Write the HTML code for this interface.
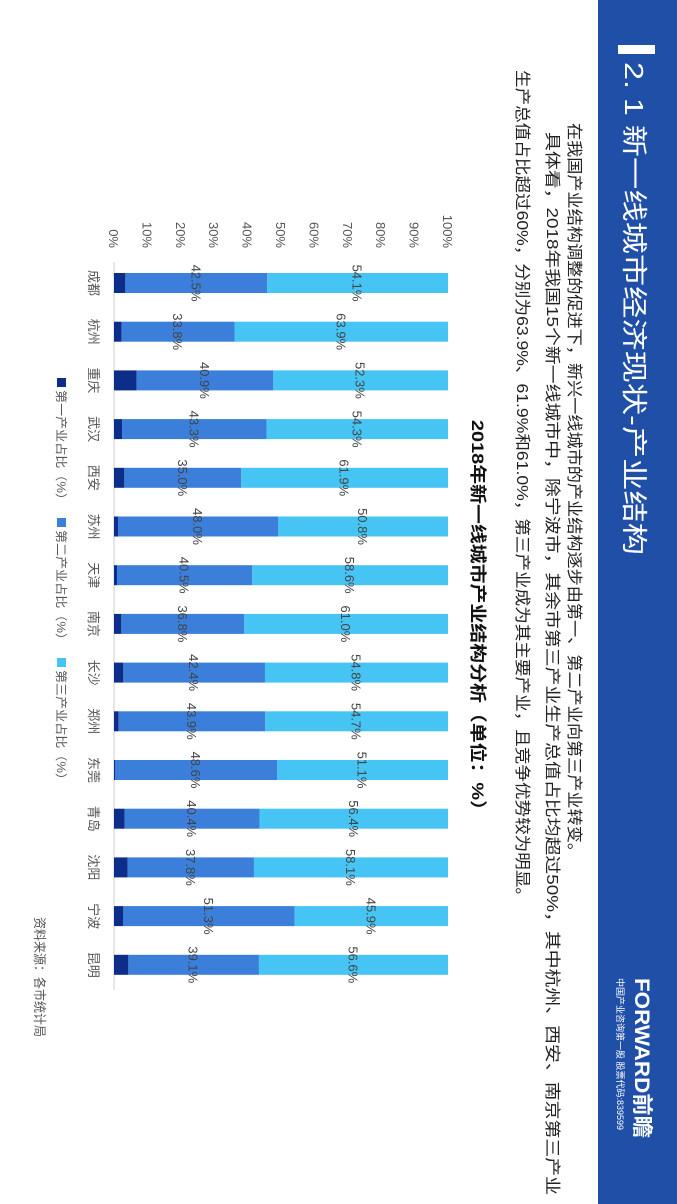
<!DOCTYPE html>
<html><head><meta charset="utf-8">
<style>
html,body{margin:0;padding:0;background:#fff;}
body{width:677px;height:1204px;overflow:hidden;position:relative;}
#land{position:absolute;left:0;top:0;width:1204px;height:677px;transform-origin:0 0;transform:translateX(677px) rotate(90deg);}
svg text{font-family:"Liberation Sans","Noto Sans CJK SC",sans-serif;}
</style></head>
<body>
<div id="land">
<svg id="svg" width="1204" height="677" xmlns="http://www.w3.org/2000/svg">
  <rect x="0" y="0" width="1204" height="79" fill="#1f4fa6"/>
  <rect x="45" y="22" width="9" height="37" fill="#fff"/>
  <text x="62" y="52" font-size="26" fill="#fff" textLength="493" lengthAdjust="spacingAndGlyphs">2. 1 新一线城市经济现状-产业结构</text>
  <text x="978" y="42" font-size="21" font-weight="bold" fill="#fff" textLength="160" lengthAdjust="spacingAndGlyphs">FORWARD前瞻</text>
  <text x="978" y="60" font-size="9" fill="#fff" textLength="152" lengthAdjust="spacingAndGlyphs">中国产业咨询第一股 股票代码:839599</text>
  <text x="123" y="108" font-size="16" fill="#222" textLength="737" lengthAdjust="spacingAndGlyphs">在我国产业结构调整的促进下，新兴一线城市的产业结构逐步由第一、第二产业向第三产业转变。</text>
  <text x="132" y="130" font-size="16" fill="#222" textLength="1063" lengthAdjust="spacingAndGlyphs">具体看，2018年我国15个新一线城市中，除宁波市，其余市第三产业生产总值占比均超过50%，其中杭州、西安、南京第三产业</text>
  <text x="70" y="160" font-size="16" fill="#222" textLength="835" lengthAdjust="spacingAndGlyphs">生产总值占比超过60%，分别为63.9%、61.9%和61.0%，第三产业成为其主要产业，且竞争优势较为明显。</text>
  <text x="620" y="205" font-size="17" font-weight="bold" fill="#111" text-anchor="middle" textLength="400" lengthAdjust="spacingAndGlyphs">2018年新一线城市产业结构分析（单位：%）</text>
  <g id="chart"></g>
  <text x="917" y="642" font-size="13" fill="#555" textLength="120" lengthAdjust="spacingAndGlyphs">资料来源：各市统计局</text>
</svg>
</div>
<script>
const categories=["成都","杭州","重庆","武汉","西安","苏州","天津","南京","长沙","郑州","东莞","青岛","沈阳","宁波","昆明"];
const secondary=[42.5,33.8,40.9,43.3,35.0,48.0,40.5,36.8,42.4,43.9,48.6,40.4,37.8,51.3,39.1];
const tertiary=[54.1,63.9,52.3,54.3,61.9,50.8,58.6,61.0,54.8,54.7,51.1,56.4,58.1,45.9,56.6];
const yTicks=[0,10,20,30,40,50,60,70,80,90,100];
const seriesNames=["第一产业占比（%）","第二产业占比（%）","第三产业占比（%）"];

const NS="http://www.w3.org/2000/svg";
const g=document.getElementById('chart');
const Y0=563,Y1=229,X0=283,STEP=48.7,BW=20;
const yScale=v=>Y0-(v/100)*(Y0-Y1);
const xScale=i=>X0+i*STEP;
const colors=["#0c2d8a","#3b7fdb","#46c4f4"];
function mk(tag,attrs){const e=document.createElementNS(NS,tag);for(const k in attrs)e.setAttribute(k,attrs[k]);g.appendChild(e);return e;}

yTicks.forEach(t=>{
  const e=mk('text',{x:248,y:yScale(t)+5,'font-size':13,fill:'#555','text-anchor':'end'});
  
  
  e.textContent=t+'%';
});
const ax=mk('line',{x1:262,x2:990,y1:Y0,y2:Y0,stroke:'#ccc','stroke-width':1});



categories.forEach((c,i)=>{
  const cx=xScale(i);
  const primary=Math.max(0,100-secondary[i]-tertiary[i]);
  const vals=[primary,secondary[i],tertiary[i]];
  let acc=0;
  vals.forEach((v,s)=>{
    const r=mk('rect',{x:cx-BW/2,y:yScale(acc+v),width:BW,height:yScale(acc)-yScale(acc+v),fill:colors[s]});
    
    
    if(s>0){
      const lbl=mk('text',{x:cx,y:(yScale(acc)+yScale(acc+v))/2+5,'font-size':13,fill:'#444','text-anchor':'middle'});
      
      
      lbl.textContent=v.toFixed(1)+'%';
    }
    acc+=v;
  });
  const cl=mk('text',{x:cx,y:588,'font-size':13,fill:'#555','text-anchor':'middle'});
  
  
  cl.textContent=c;
});

const legX=[378,518,658];
seriesNames.forEach((n,s)=>{
  const sq=mk('rect',{x:legX[s],y:611,width:9,height:9,fill:colors[s]});
  
  
  const t=mk('text',{x:legX[s]+12,y:620,'font-size':12,fill:'#555',textLength:116,lengthAdjust:'spacingAndGlyphs'});
  
  
  t.textContent=n;
});
</script>
</body></html>
